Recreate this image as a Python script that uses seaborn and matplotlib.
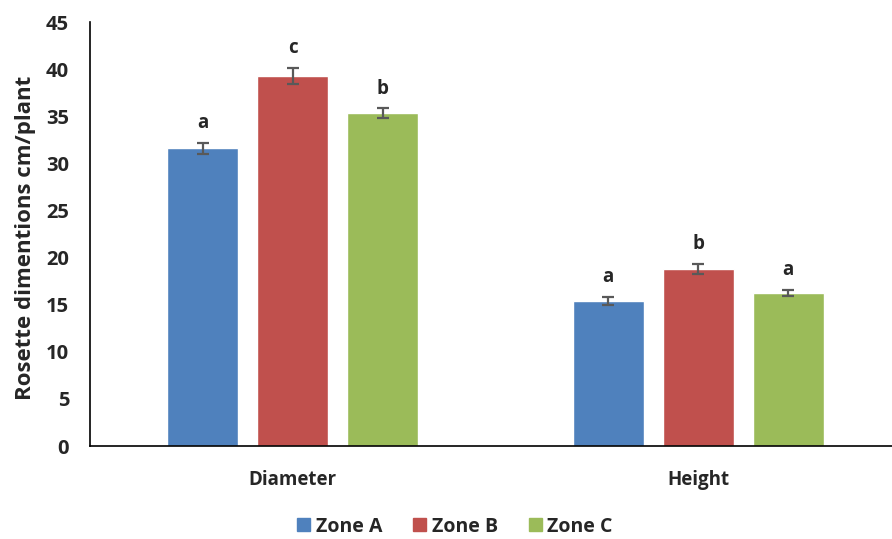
import numpy as np
import pandas as pd
import seaborn as sns
import matplotlib.pyplot as plt

categories = ["Diameter", "Height"]
zones = ["Zone A", "Zone B", "Zone C"]
zone_a = [31.6, 15.4]
zone_b = [39.3, 18.8]
zone_c = [35.35, 16.25]
err_a = [0.6, 0.45]
err_b = [0.85, 0.55]
err_c = [0.5, 0.35]
letters_a = ["a", "a"]
letters_b = ["c", "b"]
letters_c = ["b", "a"]
colors = ["#4F81BD", "#C0504D", "#9BBB59"]

sns.set_theme(style="white")
plt.rcParams["font.family"] = ["Open Sans", "DejaVu Sans"]
plt.rcParams["font.weight"] = "bold"

df = pd.DataFrame({
    "part": categories * 3,
    "zone": [z for z in zones for _ in categories],
    "value": zone_a + zone_b + zone_c,
    "err": err_a + err_b + err_c,
    "letter": letters_a + letters_b + letters_c,
})

fig = plt.figure(figsize=(8.92, 5.39), dpi=100)
# plot area runs a little past the right edge of the image, as in the original
ax = fig.add_axes([90 / 892, 1 - 446 / 539, 811 / 892, 424 / 539])

sns.barplot(data=df, x="part", y="value", hue="zone", order=categories,
            hue_order=zones, palette=colors, width=0.666, gap=0.21,
            errorbar=None, ax=ax, saturation=1)

# error bars and significance letters at bar centres
for cont, z in zip(ax.containers, zones):
    sub = df[df["zone"] == z].set_index("part").loc[categories]
    for bar, (_, row) in zip(cont, sub.iterrows()):
        cx = bar.get_x() + bar.get_width() / 2
        ax.errorbar(cx, row["value"], yerr=row["err"], color="#595959",
                    capsize=4.5, capthick=1.6, elinewidth=1.6)
        ax.text(cx, row["value"] + row["err"] + 1.0, row["letter"],
                ha="center", va="bottom", fontsize=13.5, fontweight="bold")

ax.set_ylim(0, 45)
ax.set_xlim(-0.5, 1.5)
ax.set_yticks(range(0, 46, 5))
ax.tick_params(axis="y", length=0, labelsize=14.5, pad=15)
ax.tick_params(axis="x", length=0, labelsize=13.5, pad=17)
for lab in ax.get_xticklabels() + ax.get_yticklabels():
    lab.set_fontweight("bold")
ax.set_xlabel("")
ax.set_ylabel("Rosette dimentions cm/plant", fontsize=16, fontweight="bold")
ax.yaxis.set_label_coords(-0.067, 0.49)
for s in ["top", "right"]:
    ax.spines[s].set_visible(False)
for s in ["left", "bottom"]:
    ax.spines[s].set_color("black")
    ax.spines[s].set_linewidth(1.2)

ax.legend_.remove()
handles = [plt.Rectangle((0, 0), 1, 1, color=c) for c in colors]
fig.legend(handles, zones, loc="lower center", bbox_to_anchor=(0.51, -0.028),
           ncol=3, frameon=False, prop={"size": 14, "weight": "bold"},
           handlelength=0.65, handleheight=0.65, handletextpad=0.3, columnspacing=1.6)

fig.savefig("out.png", dpi=100)
